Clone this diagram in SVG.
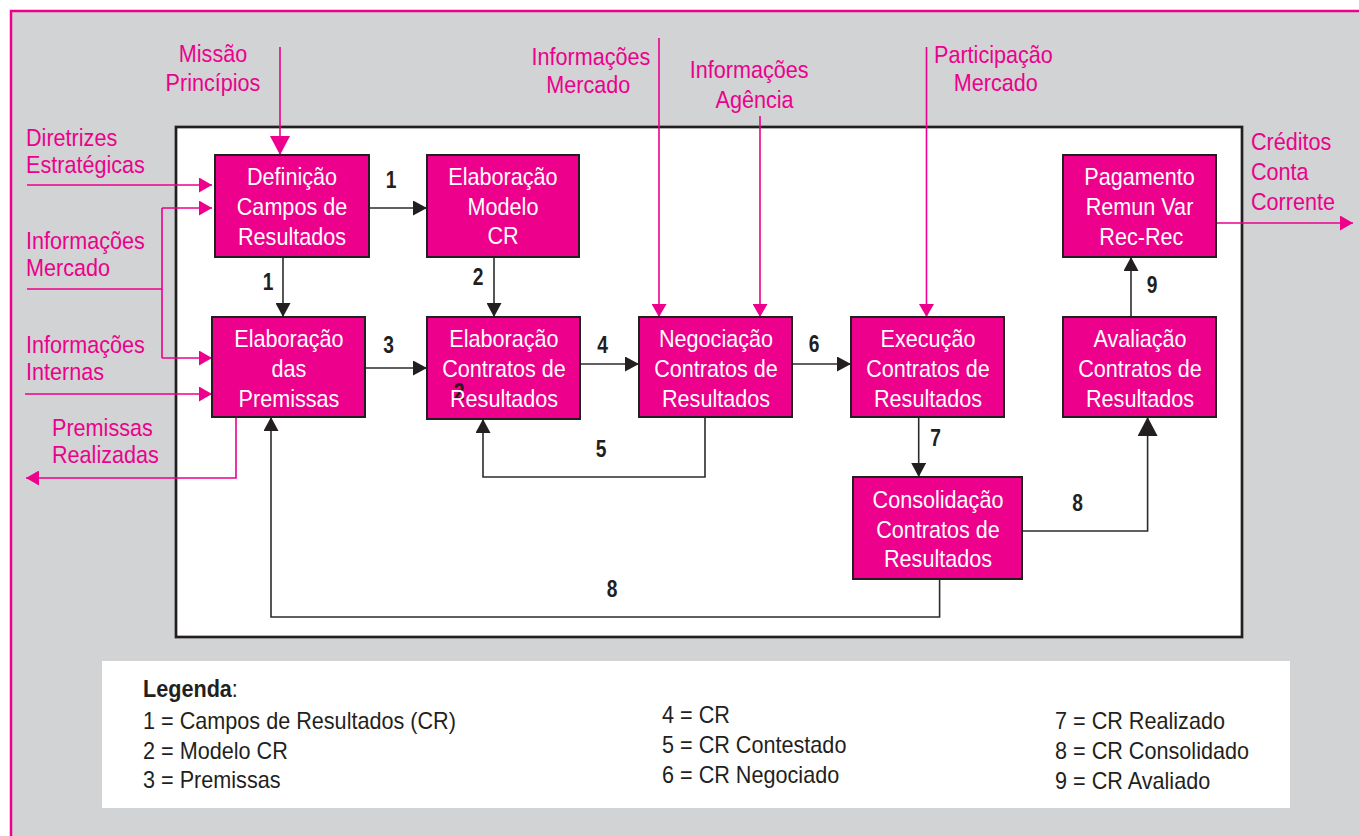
<svg xmlns="http://www.w3.org/2000/svg" width="1359" height="836" viewBox="0 0 1359 836">
<defs>
<style>
.bg{fill:#d1d3d4;stroke:#ec008c;stroke-width:2.5}
.frame{fill:#ffffff;stroke:#231f20;stroke-width:2.7}
.node{fill:#ec008c;stroke:#231f20;stroke-width:2}
.nt{font-family:"Liberation Sans",Arial,sans-serif;font-size:24px;fill:#ffffff;text-anchor:middle}
.pt{font-family:"Liberation Sans",Arial,sans-serif;font-size:24px;fill:#ec008c}
.ptm{text-anchor:middle}
.num{font-family:"Liberation Sans",Arial,sans-serif;font-size:24px;font-weight:bold;fill:#231f20;text-anchor:middle}
.lg{font-family:"Liberation Sans",Arial,sans-serif;font-size:23px;fill:#231f20}
.dk{fill:none;stroke:#2b2b2b;stroke-width:1.6}
.pk{fill:none;stroke:#ec008c;stroke-width:1.6}
</style>
<marker id="ad" markerUnits="userSpaceOnUse" markerWidth="14" markerHeight="15" refX="14" refY="7.5" orient="auto"><path d="M0,0 L14,7.5 L0,15 Z" fill="#231f20"/></marker>
<marker id="adb" markerUnits="userSpaceOnUse" markerWidth="19" markerHeight="20" refX="19" refY="10" orient="auto"><path d="M0,0 L19,10 L0,20 Z" fill="#231f20"/></marker>
<marker id="ap" markerUnits="userSpaceOnUse" markerWidth="13" markerHeight="15" refX="13" refY="7.5" orient="auto"><path d="M0,0 L13,7.5 L0,15 Z" fill="#ec008c"/></marker>
<marker id="apb" markerUnits="userSpaceOnUse" markerWidth="19" markerHeight="20" refX="19" refY="10" orient="auto"><path d="M0,0 L19,10 L0,20 Z" fill="#ec008c"/></marker>
</defs>
<rect x="0" y="0" width="1359" height="836" fill="#ffffff"/>
<rect class="bg" x="11" y="11" width="1400" height="900"/>
<rect class="frame" x="176" y="127" width="1066" height="510"/>

<g id="external-labels">
<text class="pt ptm" transform="translate(213 0) scale(0.9 1)"><tspan x="0" y="62">Missão</tspan><tspan x="0" y="91">Princípios</tspan></text>
<text class="pt" transform="translate(26 0) scale(0.9 1)"><tspan x="0" y="146">Diretrizes</tspan><tspan x="0" y="173">Estratégicas</tspan></text>
<text class="pt" transform="translate(26 0) scale(0.9 1)"><tspan x="0" y="249">Informações</tspan><tspan x="0" y="276">Mercado</tspan></text>
<text class="pt" transform="translate(26 0) scale(0.9 1)"><tspan x="0" y="353">Informações</tspan><tspan x="0" y="380">Internas</tspan></text>
<text class="pt" transform="translate(52 0) scale(0.9 1)"><tspan x="0" y="436">Premissas</tspan><tspan x="0" y="463">Realizadas</tspan></text>
<text class="pt ptm" transform="translate(590 0) scale(0.9 1)"><tspan x="1" y="65">Informações</tspan><tspan x="-2" y="93">Mercado</tspan></text>
<text class="pt ptm" transform="translate(750 0) scale(0.9 1)"><tspan x="-1" y="78">Informações</tspan><tspan x="5" y="108">Agência</tspan></text>
<text class="pt" transform="translate(934 0) scale(0.9 1)"><tspan x="0" y="63">Participação</tspan><tspan x="22" y="91">Mercado</tspan></text>
<text class="pt" transform="translate(1251 0) scale(0.9 1)"><tspan x="0" y="150">Créditos</tspan><tspan x="0" y="180">Conta</tspan><tspan x="0" y="210">Corrente</tspan></text>
</g>

<g id="connectors">
<path class="dk" d="M369,208 H427" marker-end="url(#ad)"/>
<path class="dk" d="M283,257 V317" marker-end="url(#ad)"/>
<path class="dk" d="M494,257 V317" marker-end="url(#ad)"/>
<path class="dk" d="M365,368 H427" marker-end="url(#ad)"/>
<path class="dk" d="M580,364 H639" marker-end="url(#ad)"/>
<path class="dk" d="M792,364 H851" marker-end="url(#ad)"/>
<path class="dk" d="M705,417 V477 H483 V419" marker-end="url(#ad)"/>
<path class="dk" d="M918.7,417 V477" marker-end="url(#ad)"/>
<path class="dk" d="M1022,531 H1147.6 V417" marker-end="url(#adb)"/>
<path class="dk" d="M1131,317 V257" marker-end="url(#ad)"/>
<path class="dk" d="M939.6,579 V617 H271 V417" marker-end="url(#ad)"/>
<path class="pk" d="M280,47 V155" marker-end="url(#apb)"/>
<path class="pk" d="M27,185 H212" marker-end="url(#ap)"/>
<path class="pk" d="M27,289 H162"/>
<path class="pk" d="M162,358 V208"/>
<path class="pk" d="M162,208 H212" marker-end="url(#ap)"/>
<path class="pk" d="M162,358 H212" marker-end="url(#ap)"/>
<path class="pk" d="M25,394 H212" marker-end="url(#ap)"/>
<path class="pk" d="M236,417 V478 H26" marker-end="url(#ap)"/>
<path class="pk" d="M659,38 V317" marker-end="url(#ap)"/>
<path class="pk" d="M760,116 V317" marker-end="url(#ap)"/>
<path class="pk" d="M926.5,47 V317" marker-end="url(#ap)"/>
<path class="pk" d="M1216,223 H1353" marker-end="url(#ap)"/>
<g id="connector-labels">
<text class="num" transform="translate(391 0) scale(0.8 1)" y="188">1</text>
<text class="num" transform="translate(268 0) scale(0.8 1)" y="290">1</text>
<text class="num" transform="translate(478 0) scale(0.8 1)" y="285">2</text>
<text class="num" transform="translate(388.5 0) scale(0.8 1)" y="353">3</text>
<text class="num" transform="translate(602.5 0) scale(0.8 1)" y="353">4</text>
<text class="num" transform="translate(601 0) scale(0.8 1)" y="457">5</text>
<text class="num" transform="translate(814 0) scale(0.8 1)" y="352">6</text>
<text class="num" transform="translate(935.5 0) scale(0.8 1)" y="446">7</text>
<text class="num" transform="translate(1077.5 0) scale(0.8 1)" y="511">8</text>
<text class="num" transform="translate(1152 0) scale(0.8 1)" y="293">9</text>
<text class="num" transform="translate(612 0) scale(0.8 1)" y="597">8</text>
</g>
</g>

<g id="n-definicao">
<rect class="node" x="215" y="155" width="154" height="102"/>
<text class="nt" transform="translate(292 0) scale(0.9 1)"><tspan x="0" y="185">Definição</tspan><tspan x="0" y="215">Campos de</tspan><tspan x="0" y="245">Resultados</tspan></text>
</g>
<g id="n-modelo">
<rect class="node" x="427" y="155" width="152" height="102"/>
<text class="nt" transform="translate(503 0) scale(0.9 1)"><tspan x="0" y="185">Elaboração</tspan><tspan x="0" y="215">Modelo</tspan><tspan x="0" y="244">CR</tspan></text>
</g>
<g id="n-pagamento">
<rect class="node" x="1063" y="155" width="153" height="102"/>
<text class="nt" transform="translate(1139.5 0) scale(0.9 1)"><tspan x="0" y="185">Pagamento</tspan><tspan x="0" y="215">Remun Var</tspan><tspan x="2" y="245">Rec-Rec</tspan></text>
</g>
<g id="n-premissas">
<rect class="node" x="212" y="317" width="153" height="100"/>
<text class="nt" transform="translate(289 0) scale(0.9 1)"><tspan x="0" y="347">Elaboração</tspan><tspan x="0" y="377">das</tspan><tspan x="0" y="407">Premissas</tspan></text>
</g>
<g id="n-contratos">
<rect class="node" x="427" y="317" width="153" height="102"/>
<text class="num" transform="translate(459 0) scale(0.8 1)" y="400">2</text>
<text class="nt" transform="translate(504 0) scale(0.9 1)"><tspan x="0" y="347">Elaboração</tspan><tspan x="0" y="377">Contratos de</tspan><tspan x="0" y="407">Resultados</tspan></text>
</g>
<g id="n-negociacao">
<rect class="node" x="639" y="317" width="153" height="100"/>
<text class="nt" transform="translate(716 0) scale(0.9 1)"><tspan x="0" y="347">Negociação</tspan><tspan x="0" y="377">Contratos de</tspan><tspan x="0" y="407">Resultados</tspan></text>
</g>
<g id="n-execucao">
<rect class="node" x="851" y="317" width="153" height="100"/>
<text class="nt" transform="translate(928 0) scale(0.9 1)"><tspan x="0" y="347">Execução</tspan><tspan x="0" y="377">Contratos de</tspan><tspan x="0" y="407">Resultados</tspan></text>
</g>
<g id="n-avaliacao">
<rect class="node" x="1063" y="317" width="153" height="100"/>
<text class="nt" transform="translate(1140 0) scale(0.9 1)"><tspan x="0" y="347">Avaliação</tspan><tspan x="0" y="377">Contratos de</tspan><tspan x="0" y="407">Resultados</tspan></text>
</g>
<g id="n-consolidacao">
<rect class="node" x="853" y="477" width="169" height="102"/>
<text class="nt" transform="translate(938 0) scale(0.9 1)"><tspan x="0" y="508">Consolidação</tspan><tspan x="0" y="538">Contratos de</tspan><tspan x="0" y="567">Resultados</tspan></text>
</g>

<g id="legend">
<rect x="102" y="661" width="1188" height="147" fill="#ffffff"/>
<text class="lg" transform="translate(143 0) scale(0.94 1)"><tspan x="0" y="697" font-weight="bold">Legenda</tspan><tspan>:</tspan><tspan x="0" y="729">1 = Campos de Resultados (CR)</tspan><tspan x="0" y="759">2 = Modelo CR</tspan><tspan x="0" y="788">3 = Premissas</tspan></text>
<text class="lg" transform="translate(662 0) scale(0.94 1)"><tspan x="0" y="723">4 = CR</tspan><tspan x="0" y="753">5 = CR Contestado</tspan><tspan x="0" y="783">6 = CR Negociado</tspan></text>
<text class="lg" transform="translate(1055 0) scale(0.94 1)"><tspan x="0" y="729">7 = CR Realizado</tspan><tspan x="0" y="759">8 = CR Consolidado</tspan><tspan x="0" y="789">9 = CR Avaliado</tspan></text>
</g>
</svg>
